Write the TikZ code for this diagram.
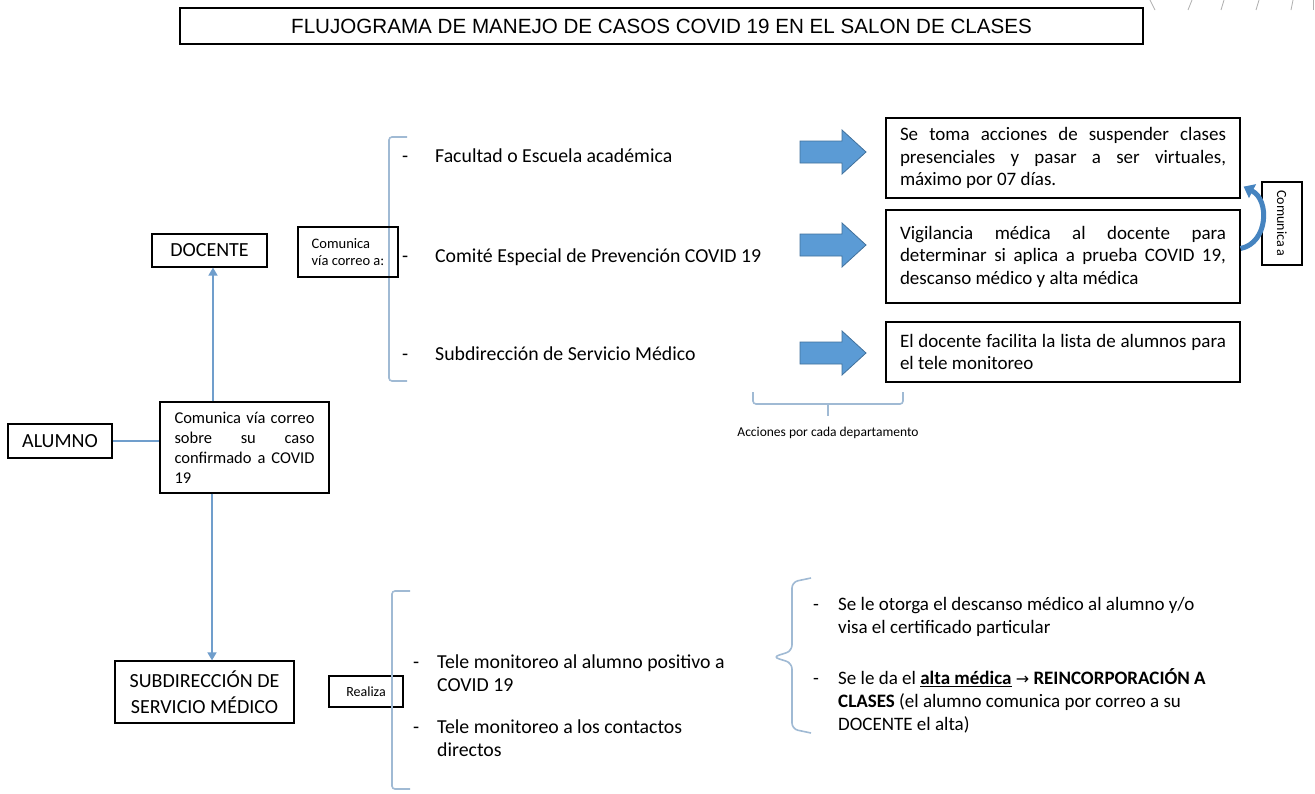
\documentclass[tikz,border=0pt]{standalone}
\usepackage{fontspec}
\setmainfont{Carlito}
\newfontfamily\arialf{Liberation Sans}
\newfontfamily\dejavu{DejaVu Sans}
\usetikzlibrary{arrows.meta}
\definecolor{conncol}{RGB}{112,158,204}
\definecolor{bracecol}{RGB}{160,186,212}
\definecolor{blkfill}{RGB}{91,155,213}
\definecolor{blkline}{RGB}{65,113,156}
\definecolor{curvcol}{RGB}{70,132,192}
\definecolor{debris}{RGB}{175,175,175}
\begin{document}
\begin{tikzpicture}[x=1pt,y=-1pt,
  boxx/.style={draw=black,line width=1.2pt,inner sep=0pt,anchor=center},
  conn/.style={draw=conncol,line width=1.6pt},
  connarr/.style={conn,-{Triangle[width=9pt,length=8pt]}},
  bracel/.style={draw=bracecol,line width=1.6pt,rounded corners=3pt},
  bodyf/.style={font=\fontsize{19}{22.5}\selectfont},
  listf/.style={font=\fontsize{19.8}{23}\selectfont,inner sep=0pt,anchor=west,align=left},
  listr/.style={font=\fontsize{19}{23}\selectfont,inner sep=0pt,anchor=west,align=left},
  blk/.style={fill=blkfill,draw=blkline,line width=0.8pt},
]
\useasboundingbox (0,0) rectangle (1315,793);
\fill[white] (0,0) rectangle (1315,793);

% top-right debris
\draw[debris,line width=0.8pt] (1150,0) -- (1155,10);
\draw[debris,line width=0.8pt] (1192,0) -- (1188,10);
\draw[debris,line width=0.8pt] (1224,0) -- (1221,10);
\draw[debris,line width=0.8pt] (1259,0) -- (1256,10);
\draw[debris,line width=0.8pt] (1293,0) -- (1291,10);
\draw[debris,line width=0.8pt] (1313,0) -- (1313,10);

% title
\node[boxx,minimum width=963pt,minimum height=36pt,font=\arialf\fontsize{20.6}{24}\selectfont] (title) at (661.5,26) {FLUJOGRAMA DE MANEJO DE CASOS COVID 19 EN EL SALON DE CLASES};

% left nodes
\node[boxx,minimum width=115pt,minimum height=33pt,font=\fontsize{20}{24}\selectfont] (doc) at (209.5,250.5) {DOCENTE};
\node[boxx,minimum width=104pt,minimum height=34pt,font=\fontsize{20}{24}\selectfont] (alu) at (60,441) {ALUMNO};
\node[boxx,minimum width=169pt,minimum height=91pt,align=left,font=\fontsize{16.5}{20}\selectfont] (comun) at (244.5,447.5)
  {\makebox[140pt][s]{Comunica vía correo}\\\makebox[140pt][s]{sobre su caso}\\\makebox[140pt][s]{confirmado a COVID}\\19};
\node[boxx,minimum width=179pt,minimum height=62pt,align=center,font=\fontsize{20}{26}\selectfont] (sub) at (204.5,692) {SUBDIRECCIÓN DE\\SERVICIO MÉDICO};
\node[boxx,minimum width=74pt,minimum height=31pt,font=\fontsize{14}{17}\selectfont] (real) at (366,691.5) {Realiza};

% connectors
\draw[connarr] ([xshift=-31.5pt]comun.north) -- ([xshift=-31.5pt]comun.north |- doc.south);
\draw[connarr] ([xshift=-32.5pt]comun.south) -- ([xshift=-32.5pt]comun.south |- sub.north);
\draw[conn] (alu.east) -- (alu.east -| comun.west);

% top bracket group
\draw[bracel] (407,137) -- (389,137) -- (389,381) -- (407,381);
\node[boxx,minimum width=100pt,minimum height=50pt,align=left,font=\fontsize{14.5}{16.5}\selectfont] (cvc) at (348,252) {Comunica\\vía correo a:};

\node[listf] (ta1) at (402,156) {\makebox[33pt][l]{-}Facultad o Escuela académica};
\node[listf] (ta2) at (402,257) {\makebox[33pt][l]{-}Comité Especial de Prevención COVID 19};
\node[listf] (ta3) at (402,354) {\makebox[33pt][l]{-}Subdirección de Servicio Médico};

% block arrows
\foreach \c in {152,245,353}{
  \draw[blk] (800,\c-11) -- (842,\c-11) -- (842,\c-22) -- (866,\c) -- (842,\c+22) -- (842,\c+11) -- (800,\c+11) -- cycle;
}

% right boxes
\node[boxx,bodyf,minimum width=354pt,minimum height=80pt,align=left] (r1) at (1063,158)
  {\makebox[326pt][s]{Se toma acciones de suspender clases}\\\makebox[326pt][s]{presenciales y pasar a ser virtuales,}\\máximo por 07 días.};
\node[boxx,bodyf,minimum width=354pt,minimum height=93pt,align=left] (r2) at (1063,256.5)
  {\makebox[326pt][s]{Vigilancia médica al docente para}\\\makebox[326pt][s]{determinar si aplica a prueba COVID 19,}\\descanso médico y alta médica};
\node[boxx,bodyf,minimum width=354pt,minimum height=60pt,align=left] (r3) at (1063,352)
  {\makebox[326pt][s]{El docente facilita la lista de alumnos para}\\el tele monitoreo};

\node[boxx,rotate=-90,minimum width=83pt,minimum height=40pt,font=\fontsize{14}{17}\selectfont] (ca) at (1282,223.5) {Comunica a};
\draw[draw=curvcol,line width=5pt,-{Triangle[width=15pt,length=10pt]}]
  ([yshift=8pt]r2.east) .. controls (1268,243) and (1270,200) .. ([xshift=3pt,yshift=12pt]r1.south east);

% acciones brace
\draw[bracel] (753,392) -- (753,404) -- (903,404) -- (903,392);
\draw[bracel] (828,404) -- (828,416);
\node[font=\fontsize{13.5}{16}\selectfont,inner sep=0pt] (acc) at (828,433) {Acciones por cada departamento};

% bottom group
\draw[bracel] (410,591) -- (392,591) -- (392,789) -- (410,789);
\node[listf] (tb1) at (413,673.5) {\makebox[24pt][l]{-}Tele monitoreo al alumno positivo a\\\hspace*{24pt}COVID 19};
\node[listf] (tb2) at (413,738.5) {\makebox[24pt][l]{-}Tele monitoreo a los contactos\\\hspace*{24pt}directos};

\draw[bracel,rounded corners=6pt] (811,578) -- (792,582) -- (792,651) -- (773,657) -- (792,663) -- (792,729) -- (811,733);
\node[listr] (tc1) at (813,616.5) {\makebox[25pt][l]{-}Se le otorga el descanso médico al alumno y/o\\\hspace*{25pt}visa el certificado particular};
\node[listr] (tc2) at (813,701) {\makebox[25pt][l]{-}Se le da el \underline{\textbf{alta médica}} {\dejavu\fontsize{16}{19}\selectfont →} \textbf{REINCORPORACIÓN A}\\\hspace*{25pt}\textbf{CLASES} (el alumno comunica por correo a su\\\hspace*{25pt}DOCENTE el alta)};
\end{tikzpicture}
\end{document}
